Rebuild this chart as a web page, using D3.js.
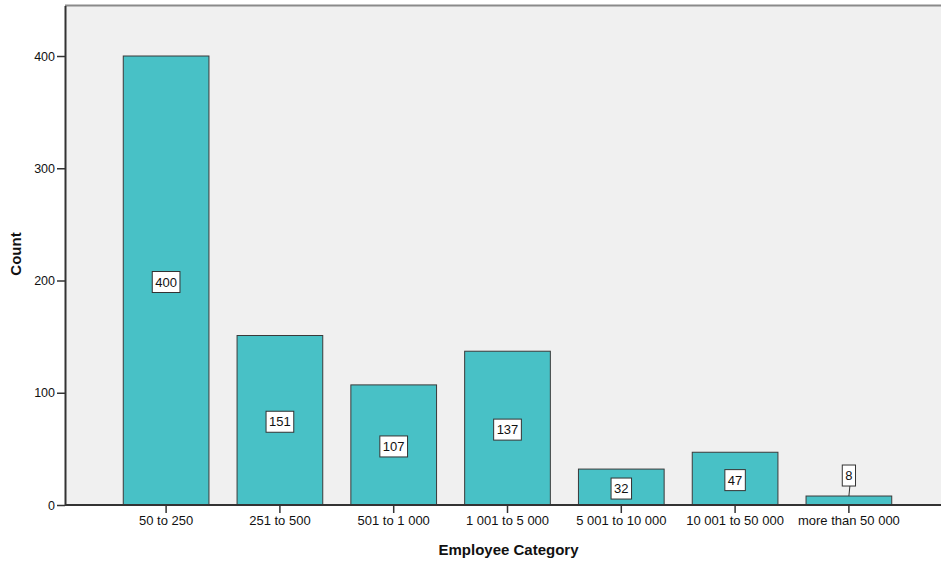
<!DOCTYPE html>
<html>
<head>
<meta charset="utf-8">
<script src="https://cdn.jsdelivr.net/npm/d3@7/dist/d3.min.js"></script>
<style>
  html, body { margin: 0; padding: 0; background: #ffffff; }
  svg { display: block; font-family: "Liberation Sans", Arial, sans-serif; }
</style>
</head>
<body>
<svg id="chart" width="941" height="565"></svg>
<script>
// Company size bands and the number of firms in each
const categories = ["50 to 250", "251 to 500", "501 to 1 000", "1 001 to 5 000",
                    "5 001 to 10 000", "10 001 to 50 000", "more than 50 000"];
const counts = [400, 151, 107, 137, 32, 47, 8];
const yTicks = [0, 100, 200, 300, 400];

const svg = d3.select("#chart");
const W = 941, H = 565;
const plot = { left: 65, right: 950, top: 5.5, bottom: 505 };

const x = d3.scaleBand()
  .domain(categories)
  .range([plot.left, plot.right])
  .paddingInner(0.247)
  .paddingOuter(0.512);

const y = d3.scaleLinear()
  .domain([0, 445])
  .range([plot.bottom, plot.top]);

// plot background
svg.append("rect")
  .attr("x", plot.left).attr("y", plot.top)
  .attr("width", plot.right - plot.left).attr("height", plot.bottom - plot.top)
  .attr("fill", "#f0f0f0");

// top frame line
svg.append("line")
  .attr("x1", plot.left).attr("x2", plot.right)
  .attr("y1", plot.top).attr("y2", plot.top)
  .attr("stroke", "#8a8a8a").attr("stroke-width", 2);

// bars
svg.append("g").selectAll("rect")
  .data(counts)
  .join("rect")
  .attr("x", (d, i) => x(categories[i]))
  .attr("y", d => y(d))
  .attr("width", x.bandwidth())
  .attr("height", d => y(0) - y(d))
  .attr("fill", "#48c1c6")
  .attr("stroke", "#3a3a3a")
  .attr("stroke-width", 1);

// y axis
const yAxis = svg.append("g")
  .attr("transform", `translate(${plot.left},0)`)
  .call(d3.axisLeft(y).tickValues(yTicks).tickSize(8).tickPadding(2).tickSizeOuter(0));
yAxis.select(".domain").attr("stroke", "#333").attr("stroke-width", 2);
yAxis.selectAll(".tick line").attr("stroke", "#333").attr("stroke-width", 1.5);
yAxis.selectAll(".tick text").attr("font-size", 12.5).attr("fill", "#111")
  .attr("font-family", "'Liberation Sans', Arial, sans-serif");

// x axis
const xAxis = svg.append("g")
  .attr("transform", `translate(0,${plot.bottom})`)
  .call(d3.axisBottom(x).tickSize(8).tickPadding(3).tickSizeOuter(0));
xAxis.select(".domain").attr("stroke", "#333").attr("stroke-width", 2)
  .attr("d", `M${plot.left},0H${plot.right}`);
xAxis.selectAll(".tick line").attr("stroke", "#333").attr("stroke-width", 1.5);
xAxis.selectAll(".tick text").attr("font-size", 13).attr("fill", "#111")
  .attr("font-family", "'Liberation Sans', Arial, sans-serif");

// value labels in boxes
const labels = svg.append("g").attr("font-size", 13)
  .attr("font-family", "'Liberation Sans', Arial, sans-serif");
counts.forEach((v, i) => {
  const cx = x(categories[i]) + x.bandwidth() / 2;
  const barH = y(0) - y(v);
  const outside = barH < 25;
  const cy = outside ? y(v) - 20.5 : y(v / 2) + 1.5;
  const g = labels.append("g");
  const t = g.append("text")
    .attr("x", cx).attr("y", cy).attr("dy", "0.36em")
    .attr("text-anchor", "middle").attr("fill", "#111").text(v);
  const tw = t.node().getComputedTextLength();
  g.insert("rect", "text")
    .attr("x", cx - tw / 2 - 3).attr("y", cy - 10.5)
    .attr("width", tw + 6).attr("height", 21)
    .attr("fill", "#ffffff").attr("stroke", "#333").attr("stroke-width", 1);
  if (outside) {
    g.append("line")
      .attr("x1", cx + 1).attr("y1", cy + 10.5)
      .attr("x2", cx).attr("y2", y(v))
      .attr("stroke", "#333").attr("stroke-width", 1);
  }
});

// axis titles
svg.append("text")
  .attr("x", (plot.left + 952) / 2).attr("y", 555)
  .attr("text-anchor", "middle")
  .attr("font-size", 15).attr("font-weight", "bold").attr("fill", "#111")
  .text("Employee Category");

svg.append("text")
  .attr("transform", "translate(21,254) rotate(-90)")
  .attr("text-anchor", "middle")
  .attr("font-size", 15).attr("font-weight", "bold").attr("fill", "#111")
  .text("Count");
</script>
</body>
</html>
